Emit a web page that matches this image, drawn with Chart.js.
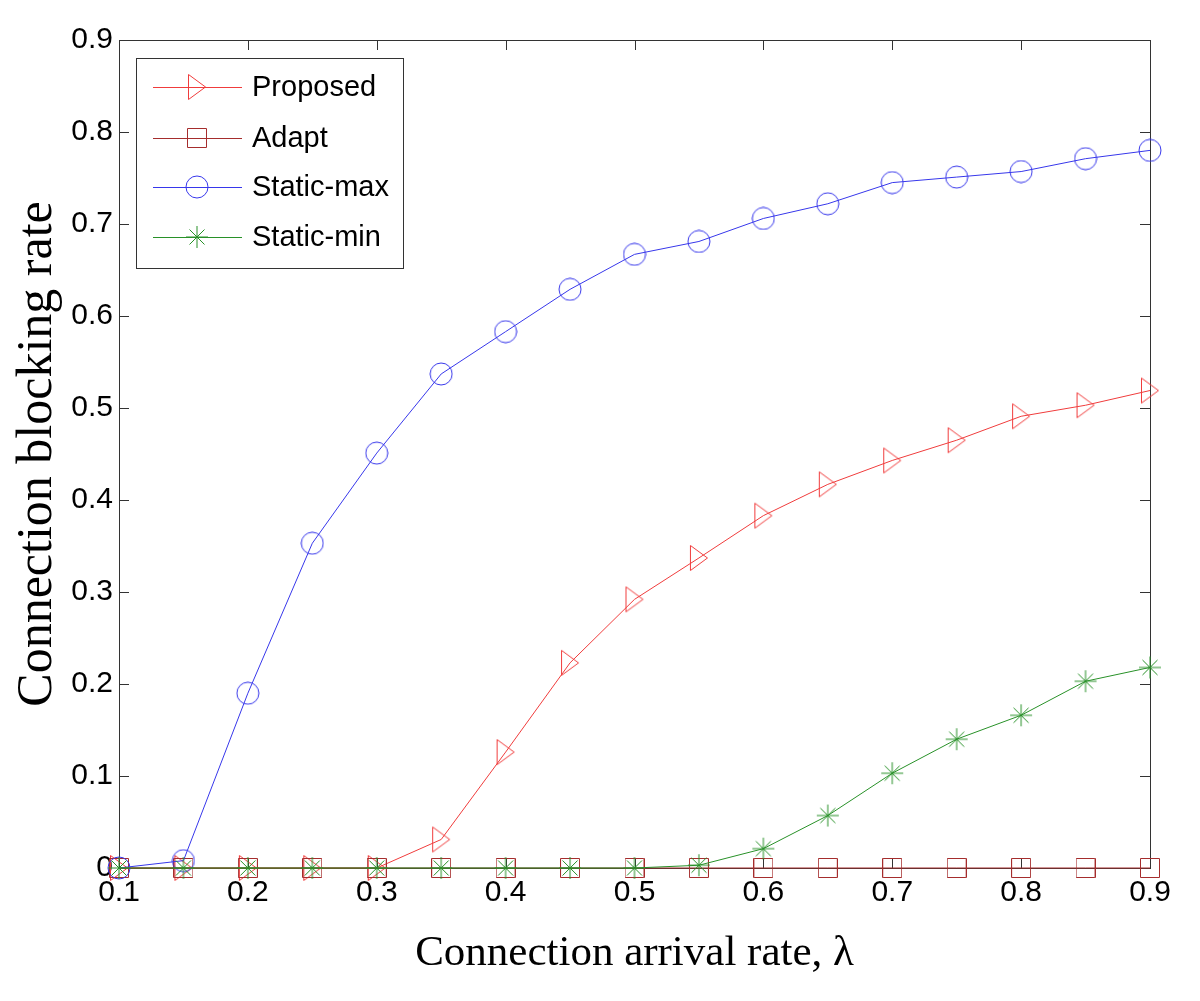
<!DOCTYPE html>
<html>
<head>
<meta charset="utf-8">
<script src="https://cdn.jsdelivr.net/npm/chart.js@4.4.1/dist/chart.umd.min.js"></script>
<style>
    body { margin: 0; background: #fff; }
    canvas { display: block; }
</style>
</head>
<body>
<canvas id="blockingChart" width="1200" height="1001"></canvas>
<script>
// connection arrival rate (x)
const arrivalRates = [0.1, 0.15, 0.2, 0.25, 0.3, 0.35, 0.4, 0.45, 0.5, 0.55, 0.6, 0.65, 0.7, 0.75, 0.8, 0.85, 0.9];

// blocking rate per scheme
const proposed = [0, 0, 0, 0, 0, 0.031, 0.126, 0.223, 0.292, 0.337, 0.383, 0.417, 0.443, 0.465, 0.491, 0.503, 0.519];
const adapt = [0, 0, 0, 0, 0, 0, 0, 0, 0, 0, 0, 0, 0, 0, 0, 0, 0];
const staticMax = [0, 0.008, 0.19, 0.353, 0.451, 0.537, 0.583, 0.629, 0.667, 0.681, 0.706, 0.722, 0.745, 0.751, 0.757, 0.771, 0.780];
const staticMin = [0, 0, 0, 0, 0, 0, 0, 0, 0, 0.003, 0.021, 0.057, 0.103, 0.140, 0.166, 0.203, 0.218];

const seriesLabels = ['Proposed', 'Adapt', 'Static-max', 'Static-min'];
const xTicks = [0.1, 0.2, 0.3, 0.4, 0.5, 0.6, 0.7, 0.8, 0.9];
const yTicks = [0, 0.1, 0.2, 0.3, 0.4, 0.5, 0.6, 0.7, 0.8, 0.9];

const colors = {
    proposed: 'rgb(240,60,60)',
    adapt: 'rgb(165,45,45)',
    staticMax: 'rgb(55,55,235)',
    staticMin: 'rgb(40,145,40)'
};

// matlab-like markers
function makeMarker(w, h, color, draw) {
    const c = document.createElement('canvas');
    c.width = w;
    c.height = h;
    const g = c.getContext('2d');
    g.strokeStyle = color;
    g.lineWidth = 1;
    g.beginPath();
    draw(g);
    g.stroke();
    return c;
}

const triMarker = makeMarker(20, 28, colors.proposed, g => {
    g.moveTo(1.5, 1.5); g.lineTo(18.5, 14); g.lineTo(1.5, 26.5); g.closePath();
});
const squareMarker = makeMarker(20, 20, colors.adapt, g => {
    g.rect(0.5, 0.5, 19, 19);
});
const circleMarker = makeMarker(24, 24, colors.staticMax, g => {
    g.arc(12, 12, 11, 0, Math.PI * 2);
});
const starMarker = makeMarker(24, 24, colors.staticMin, g => {
    g.moveTo(12, 1); g.lineTo(12, 23);
    g.moveTo(1, 12); g.lineTo(23, 12);
    g.moveTo(4.5, 4.5); g.lineTo(19.5, 19.5);
    g.moveTo(19.5, 4.5); g.lineTo(4.5, 19.5);
});

function pts(ys) {
    return arrivalRates.map((x, i) => ({ x: x, y: ys[i] }));
}

// box + inward ticks
const boxPlugin = {
    id: 'box',
    beforeDatasetsDraw(chart) {
        const { ctx, chartArea: a, scales } = chart;
        ctx.save();
        ctx.strokeStyle = '#333';
        ctx.lineWidth = 1;
        ctx.beginPath();
        xTicks.forEach(v => {
            const px = Math.round(scales.x.getPixelForValue(v)) + 0.5;
            ctx.moveTo(px, a.bottom); ctx.lineTo(px, a.bottom - 10);
            ctx.moveTo(px, a.top); ctx.lineTo(px, a.top + 10);
        });
        yTicks.forEach(v => {
            const py = Math.round(scales.y.getPixelForValue(v)) + 0.5;
            ctx.moveTo(a.left, py); ctx.lineTo(a.left + 10, py);
            ctx.moveTo(a.right, py); ctx.lineTo(a.right - 10, py);
        });
        ctx.stroke();
        ctx.strokeRect(Math.round(a.left) + 0.5, Math.round(a.top) + 0.5,
            Math.round(a.right - a.left), Math.round(a.bottom - a.top));
        ctx.restore();
    }
};

// legend box with line + marker
const legendPlugin = {
    id: 'matlabLegend',
    afterDraw(chart) {
        const { ctx } = chart;
        const markers = [triMarker, squareMarker, circleMarker, starMarker];
        const lineColors = [colors.proposed, colors.adapt, colors.staticMax, colors.staticMin];
        const rows = [87, 138, 187, 237];
        ctx.save();
        ctx.fillStyle = '#fff';
        ctx.fillRect(136, 58, 267, 210);
        ctx.strokeStyle = '#333';
        ctx.lineWidth = 1;
        ctx.strokeRect(136.5, 58.5, 267, 210);
        ctx.font = '29px "Liberation Sans", Arial, sans-serif';
        ctx.textBaseline = 'middle';
        ctx.fillStyle = '#000';
        seriesLabels.forEach((label, i) => {
            const y = rows[i];
            ctx.strokeStyle = lineColors[i];
            ctx.beginPath();
            ctx.moveTo(153, y + 0.5);
            ctx.lineTo(242, y + 0.5);
            ctx.stroke();
            const m = markers[i];
            ctx.drawImage(m, 197 - m.width / 2, y - m.height / 2);
            ctx.fillText(label, 252, y + 1);
        });
        ctx.restore();
    }
};

document.addEventListener('DOMContentLoaded', () => {
    const ctx = document.getElementById('blockingChart').getContext('2d');

    const tickFont = { family: '"Liberation Sans", Arial, sans-serif', size: 30 };
    const fmt = v => (Math.abs(v) < 1e-9 ? '0' : Number(v).toFixed(1));

    new Chart(ctx, {
        type: 'line',
        data: {
            datasets: [
                { label: seriesLabels[0], data: pts(proposed), borderColor: colors.proposed, pointStyle: triMarker, order: 4 },
                { label: seriesLabels[1], data: pts(adapt), borderColor: colors.adapt, pointStyle: squareMarker, order: 3 },
                { label: seriesLabels[2], data: pts(staticMax), borderColor: colors.staticMax, pointStyle: circleMarker, order: 2 },
                { label: seriesLabels[3], data: pts(staticMin), borderColor: colors.staticMin, pointStyle: starMarker, order: 1 }
            ].map(d => Object.assign(d, {
                borderWidth: 1,
                backgroundColor: 'transparent',
                pointRadius: 11,
                pointHoverRadius: 11,
                tension: 0,
                clip: false
            }))
        },
        options: {
            responsive: false,
            animation: false,
            layout: { padding: { top: 40, right: 50, left: 0, bottom: 0 } },
            plugins: { legend: { display: false }, tooltip: { enabled: false } },
            scales: {
                x: {
                    type: 'linear',
                    min: 0.1,
                    max: 0.9,
                    afterBuildTicks: s => { s.ticks = xTicks.map(v => ({ value: v })); },
                    afterFit: s => { s.height = 133; },
                    grid: { display: false, drawTicks: false },
                    border: { display: false },
                    ticks: { font: tickFont, color: '#000', padding: 7, maxRotation: 0, callback: fmt },
                    title: {
                        display: true,
                        text: 'Connection arrival rate, λ',
                        color: '#000',
                        font: { family: '"Liberation Serif", "Times New Roman", serif', size: 43, lineHeight: 1 },
                        padding: { top: 0, bottom: 26 }
                    }
                },
                y: {
                    min: 0,
                    max: 0.9,
                    afterBuildTicks: s => { s.ticks = yTicks.map(v => ({ value: v })); },
                    afterFit: s => { s.width = 119; },
                    grid: { display: false, drawTicks: false },
                    border: { display: false },
                    ticks: { font: tickFont, color: '#000', padding: 6, callback: fmt },
                    title: {
                        display: true,
                        text: 'Connection blocking rate',
                        color: '#000',
                        font: { family: '"Liberation Serif", "Times New Roman", serif', size: 50, lineHeight: 1 },
                        padding: { top: 13, bottom: 0 }
                    }
                }
            }
        },
        plugins: [boxPlugin, legendPlugin]
    });
});
</script>
</body>
</html>
